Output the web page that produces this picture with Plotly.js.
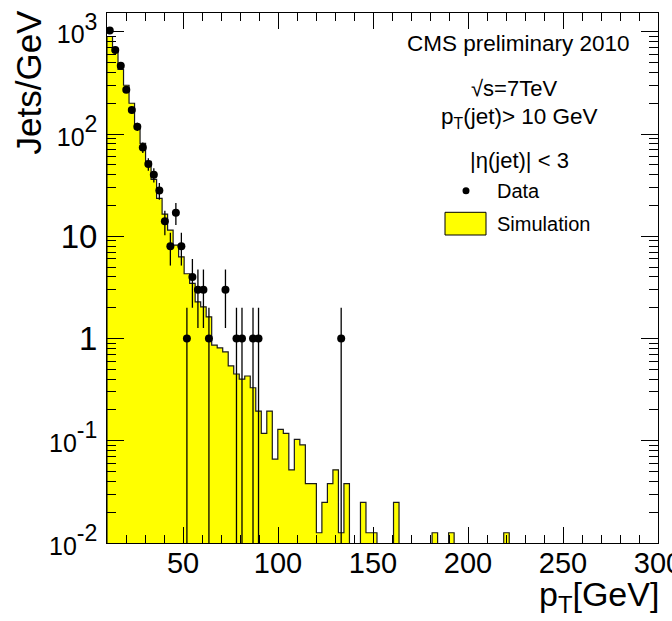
<!DOCTYPE html>
<html>
<head>
<meta charset="utf-8">
<script src="https://cdn.plot.ly/plotly-3.0.1.min.js"></script>
<style>
  html, body { margin: 0; padding: 0; background: #ffffff; }
  #chart { width: 672px; height: 621px; }
</style>
</head>
<body>
<div id="chart"></div>
<script>
// ---- histogram binning (100 bins from 10 to 300 GeV) ----
const binLow = 10;
const binWidth = 2.9;
const nBins = 100;

// Simulation: Jets/GeV per bin (bin index 0,1,2,...); 0 = empty bin
const simValues = [
  900, 640, 430, 300, 200, 122, 81, 54, 36, 23.5,
  16.5, 11.5, 8.2, 6.3, 4.3, 3.46, 2.28, 2.04, 1.63, 0.86,
  0.81, 0.74, 0.54, 0.45, 0.40, 0.43, 0.33, 0.195, 0.118, 0.195,
  0.066, 0.129, 0.118, 0.052, 0.103, 0.091, 0.038, 0.038, 0.0126, 0.025,
  0.038, 0.052, 0.0126, 0.038, 0, 0, 0.025, 0.0126, 0.0126, 0,
  0, 0, 0.025, 0, 0, 0, 0, 0, 0, 0.0126,
  0, 0, 0.0126, 0, 0, 0, 0, 0, 0, 0,
  0, 0, 0.0126
];

// Data: bin index and Jets/GeV
const dataBins   = [0, 1, 2, 3, 4, 5, 6, 7, 8, 9, 10, 11, 12, 13, 14, 15, 16, 17, 18, 21, 23, 24, 26, 27, 42];
const dataValues = [1030, 664, 466, 271, 172, 118, 74, 51, 40, 28, 14, 8, 17, 8, 1, 4, 3, 3, 1, 3, 1, 1, 1, 1, 1];

// Tick labels
const xTickVals = [50, 100, 150, 200, 250, 300];
const xTickText = ['50', '100', '150', '200', '250', '300'];
const yTickVals = [0.01, 0.1, 1, 10, 100, 1000];
const pw = (e) => '<span style="font-size:25px">10</span><sup>' + e + '</sup>';
const yTickText = [pw('-2'), pw('-1'), '1', '10', pw('2'), pw('3')];

// ---- build step outline of simulation histogram ----
const floorVal = 1e-4; // below visible range (empty bins / baseline)
const hx = [], hy = [];
hx.push(binLow); hy.push(floorVal);
for (let k = 0; k < nBins; k++) {
  const lo = binLow + k * binWidth;
  const hi = lo + binWidth;
  const v = (k < simValues.length && simValues[k] > 0) ? simValues[k] : floorVal;
  hx.push(lo, hi); hy.push(v, v);
}
hx.push(binLow + nBins * binWidth); hy.push(floorVal);

const dx = dataBins.map(k => binLow + (k + 0.5) * binWidth);
const errUp = dataValues.map(v => Math.sqrt(v));
const errDn = dataValues.map(v => Math.min(Math.sqrt(v), v * 0.9999));

const font = 'Liberation Sans, Arial, Helvetica, sans-serif';

const traces = [
  {
    type: 'scatter', mode: 'lines', name: 'Simulation',
    x: hx, y: hy, fill: 'toself', fillcolor: '#ffff00',
    line: { color: '#1a1a1a', width: 1.2 }, hoverinfo: 'skip', showlegend: false
  },
  {
    type: 'scatter', mode: 'markers', name: 'Data',
    x: dx, y: dataValues,
    marker: { color: '#000000', size: 8, symbol: 'circle' },
    error_y: { type: 'data', symmetric: false, array: errUp, arrayminus: errDn,
               color: '#000000', thickness: 1.3, width: 0 },
    showlegend: false
  }
];

const P = (px) => (px - 107) / 551;   // px -> paper x
const Q = (py) => (543 - py) / 530;   // px -> paper y

const layout = {
  width: 672, height: 621,
  margin: { l: 107, r: 14, t: 13, b: 78 },
  paper_bgcolor: '#ffffff', plot_bgcolor: '#ffffff',
  showlegend: false,
  font: { family: font, color: '#000000' },
  xaxis: {
    type: 'linear', range: [10, 300],
    tickmode: 'array', tickvals: xTickVals, ticktext: xTickText,
    ticks: 'inside', ticklen: 16, tickwidth: 1, tickcolor: '#000',
    showline: true, linecolor: '#000', linewidth: 1, mirror: 'ticks',
    showgrid: false, zeroline: false,
    tickfont: { family: font, size: 29, color: '#000' },
    ticklabelstandoff: -6,
    ticklabeloverflow: 'allow',
    minor: { dtick: 10, tick0: 0, ticks: 'inside', ticklen: 8, tickwidth: 1, tickcolor: '#000', showgrid: false }
  },
  yaxis: {
    type: 'log', range: [-2, 3.184],
    tickmode: 'array', tickvals: yTickVals, ticktext: yTickText,
    ticks: 'inside', ticklen: 17, tickwidth: 1, tickcolor: '#000',
    showline: true, linecolor: '#000', linewidth: 1, mirror: 'ticks',
    showgrid: false, zeroline: false,
    tickfont: { family: font, size: 33, color: '#000' },
    ticklabelstandoff: 2,
    ticklabeloverflow: 'allow',
    minor: { tickmode: 'linear', dtick: 'D1', ticks: 'inside', ticklen: 9, tickwidth: 1, tickcolor: '#000', showgrid: false }
  },
  annotations: [
    { xref: 'paper', yref: 'paper', x: P(518), y: Q(44), xanchor: 'center', yanchor: 'middle',
      text: 'CMS preliminary 2010', showarrow: false, font: { family: font, size: 22.5 } },
    { xref: 'paper', yref: 'paper', x: P(514), y: Q(89), xanchor: 'center', yanchor: 'middle',
      text: '√s=7TeV', showarrow: false, font: { family: font, size: 22 } },
    { xref: 'paper', yref: 'paper', x: P(519), y: Q(118), xanchor: 'center', yanchor: 'middle',
      text: 'p<sub>T</sub>(jet)&gt; 10 GeV', showarrow: false, font: { family: font, size: 22.5 } },
    { xref: 'paper', yref: 'paper', x: P(519), y: Q(160), xanchor: 'center', yanchor: 'middle',
      text: '|η(jet)| &lt; 3', showarrow: false, font: { family: font, size: 22 } },
    { xref: 'paper', yref: 'paper', x: P(495), y: Q(191), xanchor: 'left', yanchor: 'middle',
      text: 'Data', showarrow: false, font: { family: font, size: 20 } },
    { xref: 'paper', yref: 'paper', x: P(495), y: Q(224), xanchor: 'left', yanchor: 'middle',
      text: 'Simulation', showarrow: false, font: { family: font, size: 20 } },
    { xref: 'paper', yref: 'paper', x: P(28), y: Q(8), xanchor: 'center', yanchor: 'top',
      text: 'Jets/GeV', textangle: -90, showarrow: false, font: { family: font, size: 35 } },
    { xref: 'paper', yref: 'paper', x: P(661), y: Q(596), xanchor: 'right', yanchor: 'middle',
      text: 'p<sub>T</sub>[GeV]', showarrow: false, font: { family: font, size: 34 } }
  ],
  shapes: [
    { type: 'circle', xref: 'paper', yref: 'paper', x0: P(462.5), x1: P(469.5), y0: Q(194.2), y1: Q(187.2),
      fillcolor: '#000', line: { width: 0 } },
    { type: 'rect', xref: 'paper', yref: 'paper', x0: P(445), x1: P(486), y0: Q(235), y1: Q(212.3),
      fillcolor: '#ffff00', line: { color: '#000', width: 1 } }
  ]
};

Plotly.newPlot('chart', traces, layout, { staticPlot: true, displayModeBar: false });
</script>
</body>
</html>
